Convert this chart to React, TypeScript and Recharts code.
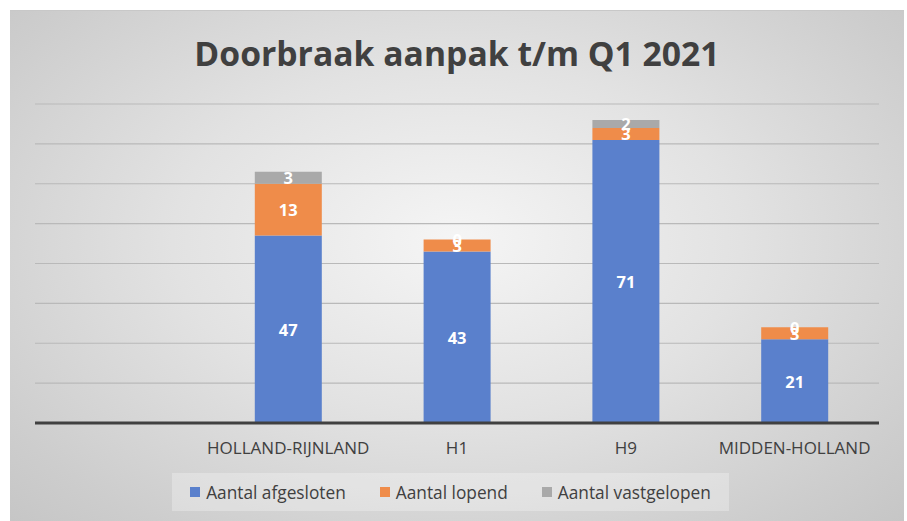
import { BarChart, Bar, XAxis, YAxis, CartesianGrid, LabelList } from "recharts";

const categories = ["", "HOLLAND-RIJNLAND", "H1", "H9", "MIDDEN-HOLLAND"];
const afgesloten = [null, 47, 43, 71, 21];
const lopend = [null, 13, 3, 3, 3];
const vastgelopen = [null, 3, 0, 2, 0];
const yTicks = [0, 10, 20, 30, 40, 50, 60, 70, 80];

const COLORS = {
  afgesloten: "#5a80cc",
  lopend: "#ef8c4a",
  vastgelopen: "#a9a9a9",
};

const data = categories.map((name, i) => ({
  name,
  afgesloten: afgesloten[i],
  lopend: lopend[i],
  vastgelopen: vastgelopen[i],
}));

const legendItems = [
  { key: "Aantal afgesloten", color: COLORS.afgesloten },
  { key: "Aantal lopend", color: COLORS.lopend },
  { key: "Aantal vastgelopen", color: COLORS.vastgelopen },
];

const FONT = "'Open Sans', 'Noto Sans', sans-serif";

function SegmentLabel(props: any) {
  const { x, y, width, height, value } = props;
  if (value === null || value === undefined) return null;
  return (
    <text
      x={x + width / 2}
      y={y + height / 2}
      textAnchor="middle"
      dominantBaseline="central"
      fill="#ffffff"
      fontSize={16.5}
      fontWeight={700}
      fontFamily={FONT}
    >
      {value}
    </text>
  );
}

// zero-height top segments get no rect of their own, so their "0" is drawn
// at the top of the segment below
function ZeroTopLabel(props: any) {
  const { x, y, width, value } = props;
  if (value !== 0) return null;
  return (
    <text
      x={x + width / 2}
      y={y}
      textAnchor="middle"
      dominantBaseline="central"
      fill="#ffffff"
      fontSize={16.5}
      fontWeight={700}
      fontFamily={FONT}
    >
      {value}
    </text>
  );
}

export default function App() {
  return (
    <div
      style={{
        position: "absolute",
        left: 10,
        top: 10,
        width: 894,
        height: 510,
        background:
          "radial-gradient(ellipse at 50% 45%, #f5f5f5 0%, #e2e2e2 45%, #cdcdcd 85%, #c6c6c6 100%)",
        fontFamily: FONT,
        borderTop: "1px solid #c8c8c8",
      }}
    >
      <div
        style={{
          position: "absolute",
          left: 0,
          width: 894,
          top: 19,
          textAlign: "center",
          fontSize: 33.7,
          fontWeight: 700,
          color: "#404040",
        }}
      >
        Doorbraak aanpak t/m Q1 2021
      </div>

      <div style={{ position: "absolute", left: 0, top: 0 }}>
        <BarChart
          width={894}
          height={450}
          data={data}
          margin={{ top: 93, right: 25, left: 25, bottom: 0 }}
          barSize={67}
        >
          <CartesianGrid vertical={false} stroke="#b9b9b9" strokeWidth={1.2} />
          <YAxis hide domain={[0, 80]} ticks={yTicks} />
          <XAxis
            dataKey="name"
            height={38}
            tickLine={false}
            tickSize={0}
            tickMargin={19}
            axisLine={{ stroke: "#404040", strokeWidth: 3 }}
            tick={{ fill: "#404040", fontSize: 17, fontFamily: FONT }}
          />
          <Bar dataKey="afgesloten" stackId="a" fill={COLORS.afgesloten} isAnimationActive={false}>
            <LabelList dataKey="afgesloten" content={SegmentLabel} />
          </Bar>
          <Bar dataKey="lopend" stackId="a" fill={COLORS.lopend} isAnimationActive={false}>
            <LabelList dataKey="lopend" content={SegmentLabel} />
            <LabelList dataKey="vastgelopen" content={ZeroTopLabel} />
          </Bar>
          <Bar dataKey="vastgelopen" stackId="a" fill={COLORS.vastgelopen} isAnimationActive={false}>
            <LabelList dataKey="vastgelopen" content={SegmentLabel} />
          </Bar>
        </BarChart>
      </div>

      {/* Legend */}
      <div
        style={{
          position: "absolute",
          left: 162,
          top: 462,
          width: 557,
          height: 38,
          background: "rgba(255,255,255,0.28)",
          display: "flex",
          alignItems: "center",
          justifyContent: "center",
          gap: 34,
          fontSize: 17.3,
          color: "#404040",
        }}
      >
        {legendItems.map((item) => (
          <div key={item.key} style={{ display: "flex", alignItems: "center", gap: 6 }}>
            <span style={{ width: 10, height: 10, backgroundColor: item.color, display: "inline-block" }} />
            <span>{item.key}</span>
          </div>
        ))}
      </div>
    </div>
  );
}
